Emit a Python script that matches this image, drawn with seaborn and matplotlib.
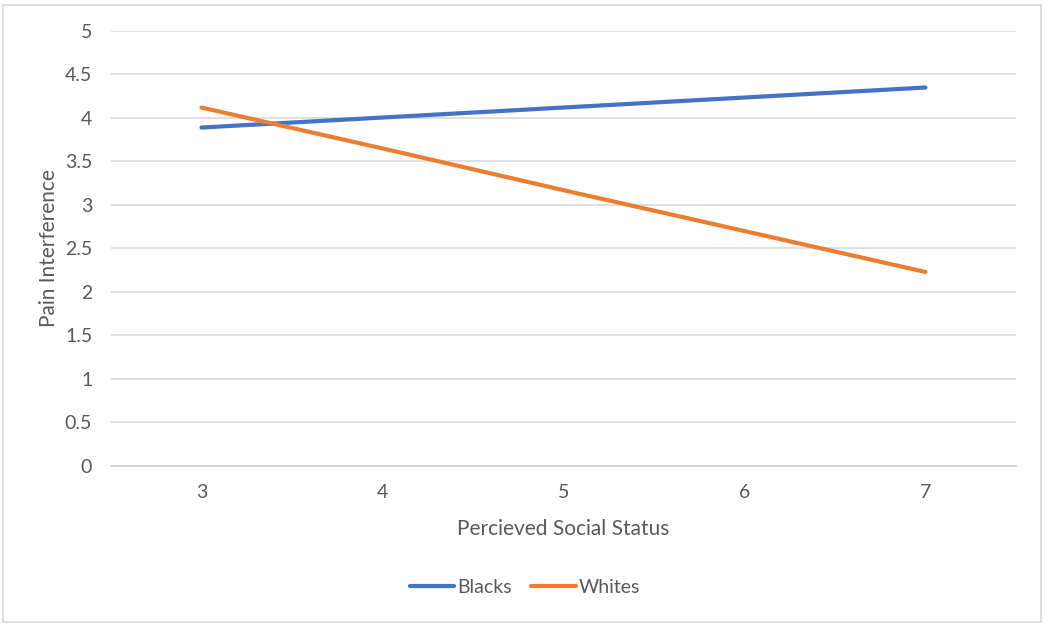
import pandas as pd
import seaborn as sns
import matplotlib.pyplot as plt
from matplotlib.patches import Rectangle

# values
status = [3, 4, 5, 6, 7]
blacks = [3.89, 4.005, 4.12, 4.235, 4.35]
whites = [4.12, 3.65, 3.17, 2.70, 2.23]

df = pd.DataFrame({
    "status": status * 2,
    "pain": blacks + whites,
    "group": ["Blacks"] * 5 + ["Whites"] * 5,
})

sns.set_style("white")
plt.rcParams["font.family"] = ["Lato", "DejaVu Sans"]
grey = "#595959"

fig = plt.figure(figsize=(10.5, 6.32), dpi=100)
ax = fig.add_axes([0.1057, 0.2627, 0.8619, 0.6883])

sns.lineplot(data=df, x="status", y="pain", hue="group",
             palette={"Blacks": "#4472C4", "Whites": "#ED7D31"},
             linewidth=3, solid_capstyle="round", ax=ax, legend=False)

ax.set_xlim(2.5, 7.5)
ax.set_ylim(0, 5)
ax.set_xticks(status)
ax.set_yticks([i * 0.5 for i in range(11)])
ax.set_yticklabels(["0", "0.5", "1", "1.5", "2", "2.5", "3", "3.5", "4", "4.5", "5"])
ax.grid(axis="y", color="#D9D9D9", linewidth=1.2)
ax.set_axisbelow(True)
for s in ["top", "right", "left"]:
    ax.spines[s].set_visible(False)
ax.spines["bottom"].set_color("#D0D0D0")
ax.spines["bottom"].set_linewidth(1.2)
ax.tick_params(length=0, labelsize=14, colors=grey)
ax.tick_params(axis="y", pad=13.5)
ax.tick_params(axis="x", pad=13)

ax.set_xlabel("Percieved Social Status", fontsize=15, color=grey, labelpad=13)
ax.set_ylabel("Pain Interference", fontsize=15, color=grey, labelpad=4)

handles = [plt.Line2D([], [], color="#4472C4", lw=3, solid_capstyle="round"),
           plt.Line2D([], [], color="#ED7D31", lw=3, solid_capstyle="round")]
fig.legend(handles, ["Blacks", "Whites"], loc="center", bbox_to_anchor=(0.5, 0.071),
           ncol=2, frameon=False, fontsize=14, labelcolor=grey,
           handlelength=2.3, handletextpad=0.15, columnspacing=1.0)

fig.patches.append(Rectangle((0.003, 0.016), 0.988, 0.976, transform=fig.transFigure,
                             fill=False, edgecolor="#D9D9D9", linewidth=1.2))

fig.savefig("out.png", dpi=100, facecolor="white")
